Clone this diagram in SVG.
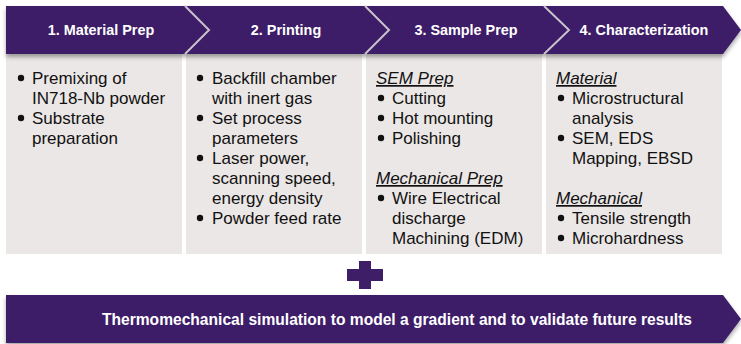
<svg xmlns="http://www.w3.org/2000/svg" width="741" height="344" viewBox="0 0 741 344">
<defs>
<filter id="sh" x="-5%" y="-20%" width="110%" height="150%">
<feDropShadow dx="0" dy="3" stdDeviation="2" flood-color="#000" flood-opacity="0.35"/>
</filter>
<style>
.hd{fill:#3D1E67}
.sep{fill:none;stroke:#C9C3CC;stroke-width:2}
.box{fill:#EBE7E6}
.ht{font-family:"Liberation Sans",Arial,sans-serif;font-size:14.4px;font-weight:bold;fill:#fff;text-anchor:middle}
.t{font-family:"Liberation Sans",Arial,sans-serif;font-size:17px;fill:#111}
.u{font-style:italic;text-decoration:underline}
.b{fill:#111}
.bt{font-family:"Liberation Sans",Arial,sans-serif;font-size:15.6px;font-weight:bold;fill:#fff;text-anchor:middle}
</style>
</defs>
<rect width="741" height="344" fill="#fff"/>

<g id="boxes">
<rect class="box" x="6" y="54" width="176" height="200"/>
<rect class="box" x="186" y="54" width="176" height="200"/>
<rect class="box" x="366" y="54" width="176" height="200"/>
<rect class="box" x="546" y="54" width="176" height="200"/>
</g>

<g id="header" filter="url(#sh)">
<path class="hd" d="M6,6 H723 L741,30 L723,54 H6 Z"/>
</g>
<g id="separators">
<polyline class="sep" points="185,6 209,30 185,54"/>
<polyline class="sep" points="365,6 389,30 365,54"/>
<polyline class="sep" points="544,6 569,30 544,54"/>
</g>

<g id="step1">
<text class="ht" x="101" y="35">1. Material Prep</text>
<circle class="b" cx="21" cy="78" r="3.2"/><text class="t" x="32" y="84">Premixing of</text>
<text class="t" x="32" y="104">IN718-Nb powder</text>
<circle class="b" cx="21" cy="118" r="3.2"/><text class="t" x="32" y="124">Substrate</text>
<text class="t" x="32" y="144">preparation</text>
</g>

<g id="step2">
<text class="ht" x="286" y="35">2. Printing</text>
<circle class="b" cx="200" cy="78" r="3.2"/><text class="t" x="212" y="84">Backfill chamber</text>
<text class="t" x="212" y="104">with inert gas</text>
<circle class="b" cx="200" cy="118" r="3.2"/><text class="t" x="212" y="124">Set process</text>
<text class="t" x="212" y="144">parameters</text>
<circle class="b" cx="200" cy="158" r="3.2"/><text class="t" x="212" y="164">Laser power,</text>
<text class="t" x="212" y="184">scanning speed,</text>
<text class="t" x="212" y="204">energy density</text>
<circle class="b" cx="200" cy="218" r="3.2"/><text class="t" x="212" y="224">Powder feed rate</text>
</g>

<g id="step3">
<text class="ht" x="466" y="35">3. Sample Prep</text>
<text class="t u" x="376" y="84">SEM Prep</text>
<circle class="b" cx="381" cy="98" r="3.2"/><text class="t" x="392" y="104">Cutting</text>
<circle class="b" cx="381" cy="118" r="3.2"/><text class="t" x="392" y="124">Hot mounting</text>
<circle class="b" cx="381" cy="138" r="3.2"/><text class="t" x="392" y="144">Polishing</text>
<text class="t u" x="376" y="184">Mechanical Prep</text>
<circle class="b" cx="381" cy="198" r="3.2"/><text class="t" x="392" y="204">Wire Electrical</text>
<text class="t" x="392" y="224">discharge</text>
<text class="t" x="392" y="244">Machining (EDM)</text>
</g>

<g id="step4">
<text class="ht" x="644" y="35">4. Characterization</text>
<text class="t u" x="556" y="84">Material</text>
<circle class="b" cx="561" cy="98" r="3.2"/><text class="t" x="572" y="104">Microstructural</text>
<text class="t" x="572" y="124">analysis</text>
<circle class="b" cx="561" cy="138" r="3.2"/><text class="t" x="572" y="144">SEM, EDS</text>
<text class="t" x="572" y="164">Mapping, EBSD</text>
<text class="t u" x="556" y="204">Mechanical</text>
<circle class="b" cx="561" cy="218" r="3.2"/><text class="t" x="572" y="224">Tensile strength</text>
<circle class="b" cx="561" cy="238" r="3.2"/><text class="t" x="572" y="244">Microhardness</text>
</g>

<g id="plus">
<path class="hd" d="M359,261 H371 V269 H383 V281 H371 V289 H359 V281 H347 V269 H359 Z"/>
</g>

<g id="simulation">
<path class="hd" d="M6,295 H723 L741,319 L723,343 H6 Z" filter="url(#sh)"/>
<text class="bt" x="397" y="324.5">Thermomechanical simulation to model a gradient and to validate future results</text>
</g>

<g id="connectors"/>
</svg>
